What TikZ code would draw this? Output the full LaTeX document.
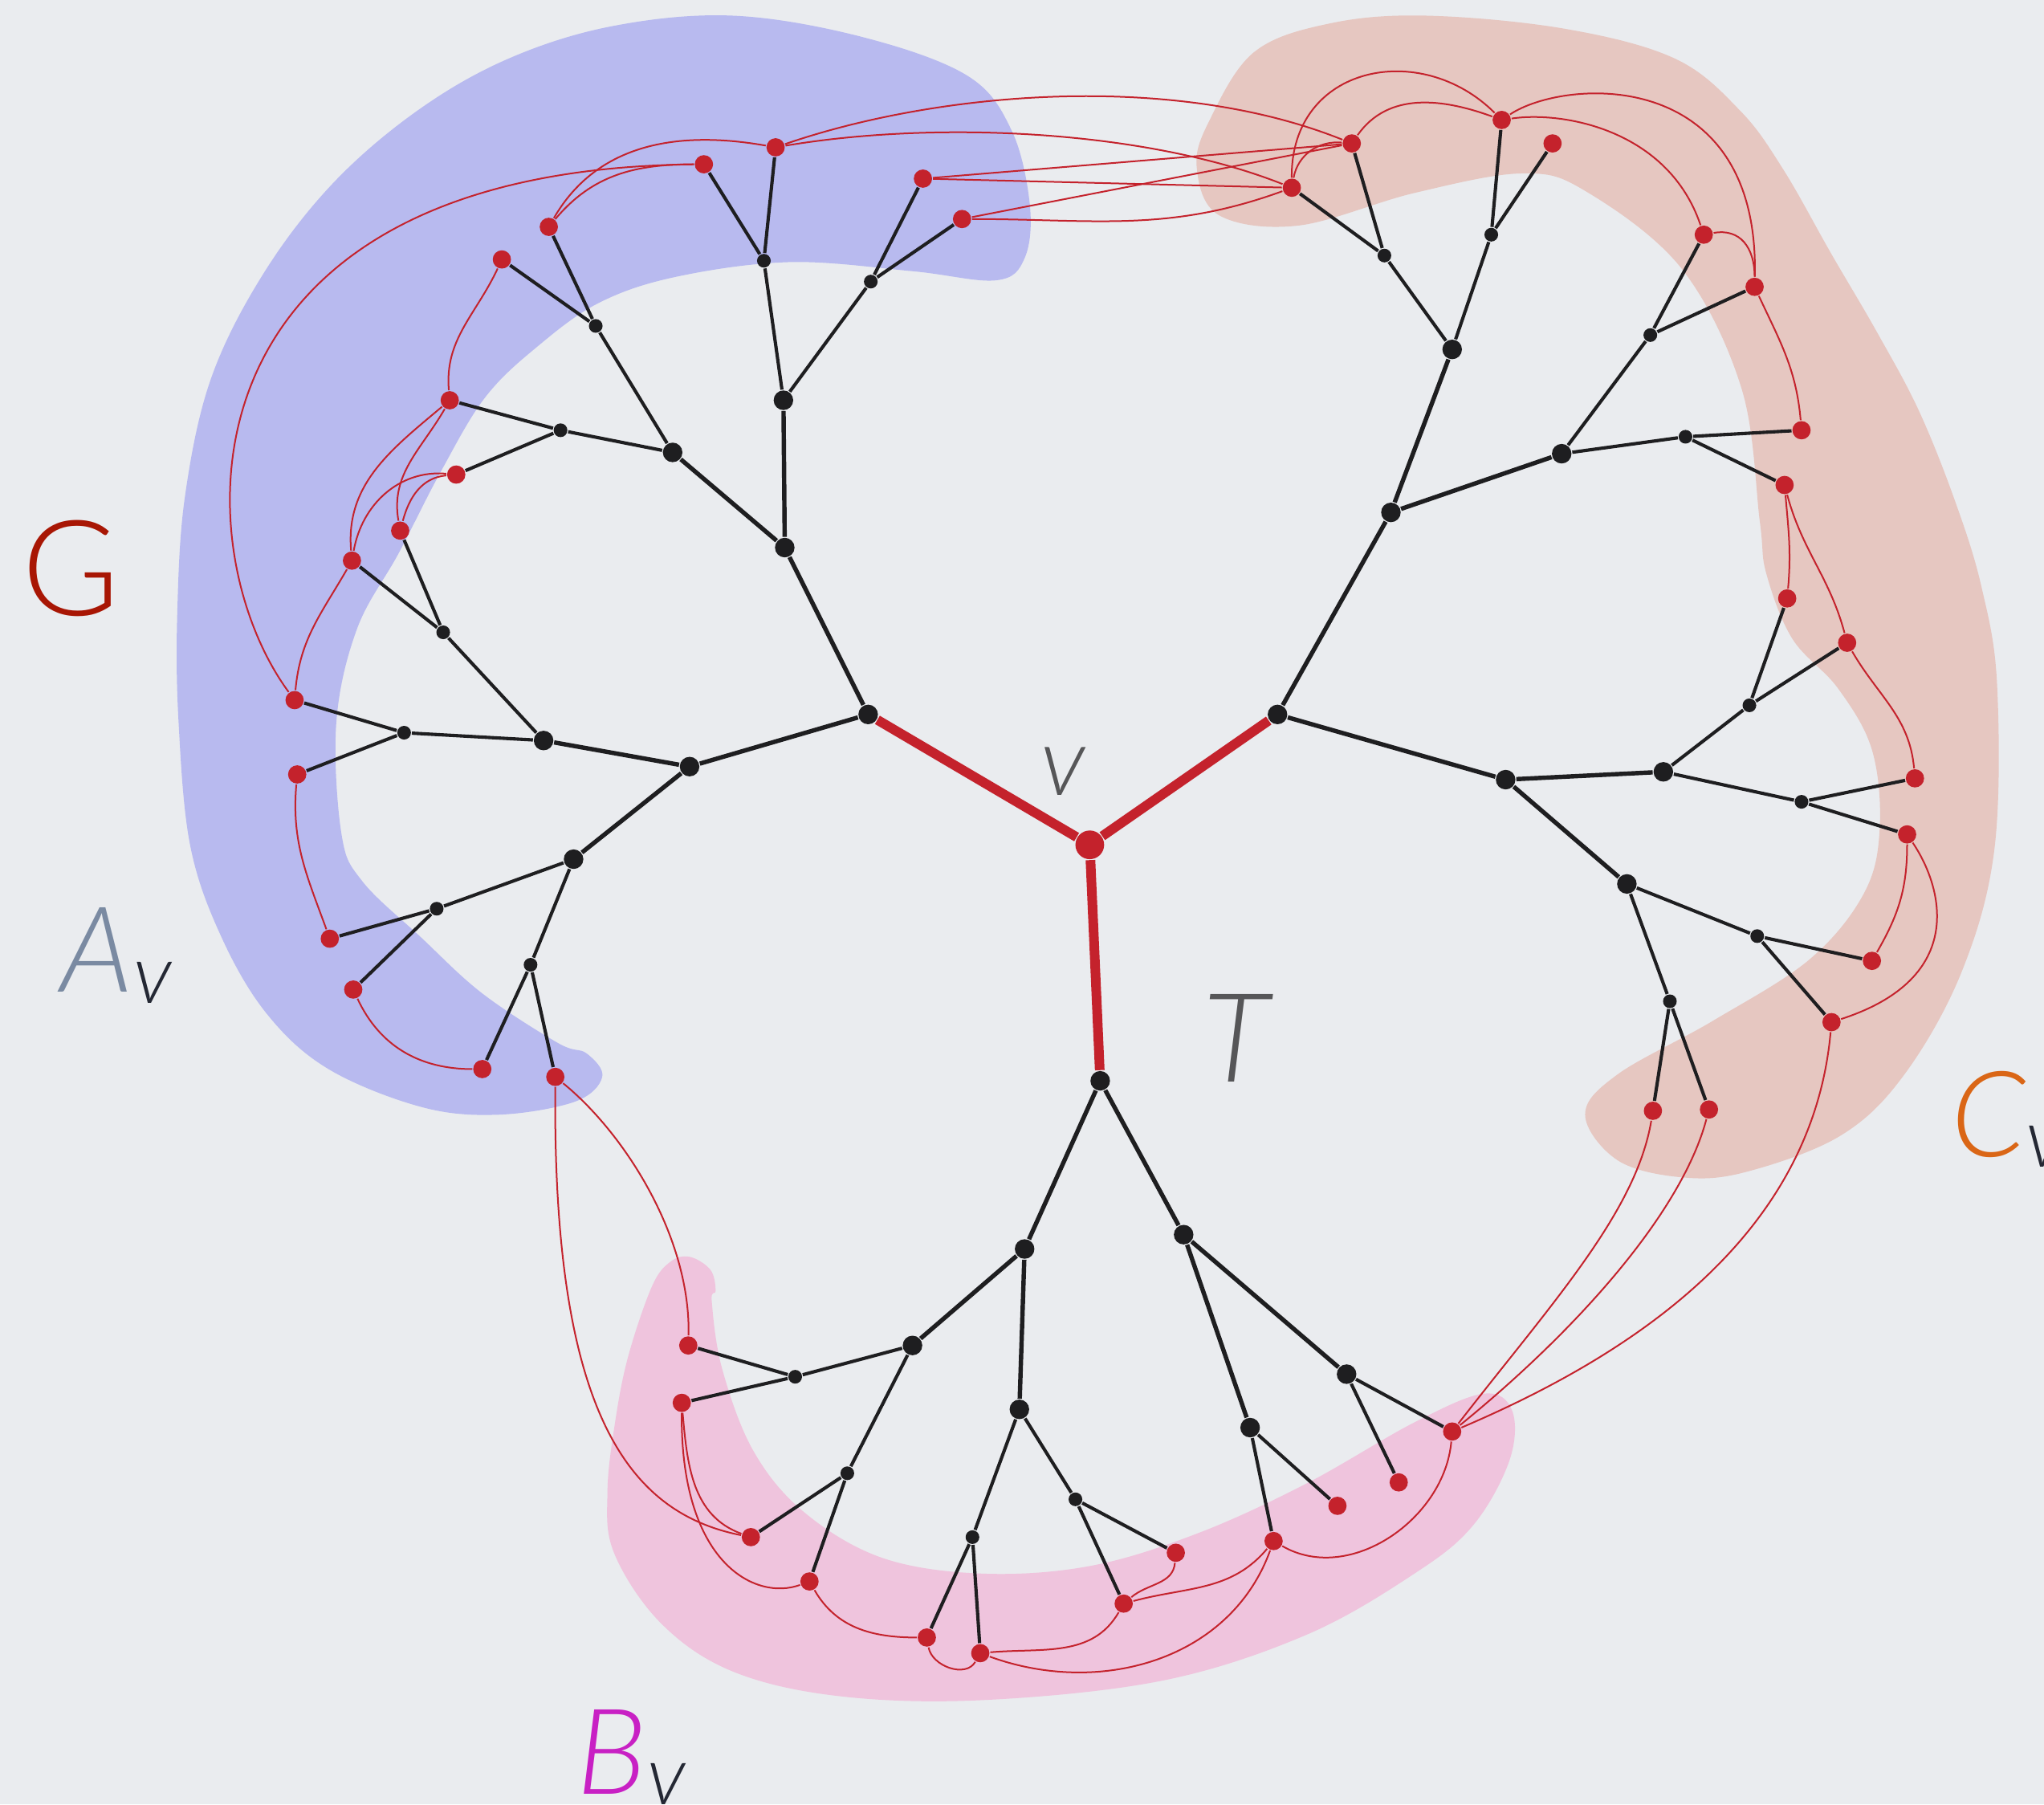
\documentclass[tikz,border=0pt]{standalone}
\usepackage{fontspec}
\IfFontExistsTF{Lato-Light.ttf}{%
  \IfFontExistsTF{Lato-LightItalic.ttf}%
    {\newfontfamily\lblfont[ItalicFont=Lato-LightItalic.ttf]{Lato-Light.ttf}}%
    {\newfontfamily\lblfont{Lato-Light.ttf}}}%
  {\IfFontExistsTF{Lato Light}{\newfontfamily\lblfont{Lato Light}}{\newfontfamily\lblfont{Lato}}}

\definecolor{paper}{RGB}{234,236,239}
\definecolor{ink}{RGB}{30,30,32}
\definecolor{gred}{RGB}{196,34,44}
\definecolor{blobA}{RGB}{184,186,239}
\definecolor{blobB}{RGB}{239,196,221}
\definecolor{blobC}{RGB}{230,199,193}
\definecolor{colG}{RGB}{168,22,4}
\definecolor{colA}{RGB}{122,138,162}
\definecolor{colB}{RGB}{200,32,196}
\definecolor{colC}{RGB}{218,102,22}
\definecolor{colT}{RGB}{86,86,88}
\definecolor{subv}{RGB}{36,40,52}

\newcommand{\subv}{\lower2.4pt\hbox{\color{subv}\fontsize{18}{18}\selectfont v}}

\begin{document}
\begin{tikzpicture}[
    x=0.01cm, y=-0.01cm,
    leaf/.style={circle, fill=gred, inner sep=0pt, minimum size=0.14cm},
    hub/.style={circle, fill=ink, inner sep=0pt, minimum size=0.15cm},
    twig/.style={circle, fill=ink, inner sep=0pt, minimum size=0.105cm},
    rootdot/.style={circle, fill=gred, inner sep=0pt, minimum size=0.22cm},
    trunk/.style={ink, line width=0.95pt},
    branch/.style={ink, line width=0.72pt},
    spine/.style={gred, line width=2.1pt},
    gedge/.style={gred, line width=0.35pt},
    bigletter/.style={inner sep=0pt, anchor=base west, font=\lblfont\fontsize{26}{26}\selectfont},
]

% fondo
\useasboundingbox (0,0) rectangle (1568,1384);
\fill[paper] (0,0) rectangle (1568,1384);

% insiemi A_v, B_v, C_v
\fill[blobA] plot[smooth cycle, tension=0.6] coordinates {
    (562,12) (660,28) (742,58) (776,100) (790,157) (786,198) (764,215)
    (700,208) (607,201) (520,212) (460,232) (412,266) (372,305) (338,362)
    (306,424) (274,482) (258,554) (262,640) (278,676) (323,719) (370,762)
    (428,800) (450,808) (462,826) (441,845) (382,855) (323,849) (252,820)
    (205,778) (170,719) (146,649) (137,554) (136,470) (142,380) (162,290)
    (202,210) (255,141) (320,85) (390,45) (470,20)};

\fill[blobC] plot[smooth cycle, tension=0.6] coordinates {
    (1094,12) (1200,22) (1285,45) (1335,85) (1368,130) (1405,195)
    (1440,255) (1472,315) (1500,385) (1520,450) (1532,525) (1530,651)
    (1505,745) (1461,824) (1412,871) (1339,899) (1290,903) (1241,890)
    (1216,855) (1241,824) (1314,783) (1388,736) (1430,685) (1442,635)
    (1436,575) (1410,528) (1375,490) (1355,440) (1350,400) (1336,298)
    (1290,206) (1217,147) (1168,133) (1085,148) (996,173) (935,165)
    (918,128) (928,92) (962,40) (1020,18)};

\fill[blobB] plot[smooth cycle, tension=0.6] coordinates {
    (529,964) (545,974) (549,990) (546,998) (554,1050) (578,1113)
    (617,1160) (677,1195) (754,1207) (837,1201) (919,1176) (1002,1138)
    (1085,1091) (1138,1069) (1160,1082) (1158,1120) (1130,1170)
    (1085,1207) (1002,1254) (892,1289) (754,1304) (644,1301) (562,1282)
    (507,1245) (471,1191) (466,1144) (472,1090) (482,1040) (500,987)
    (514,968)};

% radice
\node[rootdot] (v) at (836,648) {};

% sottoalbero sinistro
\node[hub] (a) at (666,548) {};
\node[hub] (a1) at (602,420) {};
\node[hub] (a2) at (529,588) {};
\node[hub] (a11) at (601,307) {};
\node[hub] (a12) at (516,347) {};
\node[hub] (a21) at (417,568) {};
\node[hub] (a22) at (440,659) {};
\node[twig] (a111) at (586,200) {};
\node[twig] (a112) at (668,216) {};
\node[twig] (a121) at (457,250) {};
\node[twig] (a122) at (430,330) {};
\node[twig] (a211) at (340,485) {};
\node[twig] (a212) at (310,562) {};
\node[twig] (a221) at (335,697) {};
\node[twig] (a222) at (407,740) {};
\node[leaf] (a1111) at (595,113) {};
\node[leaf] (a1112) at (540,126) {};
\node[leaf] (a1121) at (708,137) {};
\node[leaf] (a1122) at (738,168) {};
\node[leaf] (a1211) at (421,174) {};
\node[leaf] (a1212) at (385,199) {};
\node[leaf] (a1221) at (345,307) {};
\node[leaf] (a1222) at (350,364) {};
\node[leaf] (a2111) at (307,407) {};
\node[leaf] (a2112) at (270,430) {};
\node[leaf] (a2121) at (226,537) {};
\node[leaf] (a2122) at (228,594) {};
\node[leaf] (a2211) at (253,720) {};
\node[leaf] (a2212) at (271,759) {};
\node[leaf] (a2221) at (370,820) {};
\node[leaf] (a2222) at (426,826) {};

% sottoalbero destro
\node[hub] (c) at (980,548) {};
\node[hub] (c1) at (1067,393) {};
\node[hub] (c2) at (1155,598) {};
\node[hub] (c11) at (1114,268) {};
\node[hub] (c12) at (1198,348) {};
\node[hub] (c21) at (1276,592) {};
\node[hub] (c22) at (1248,678) {};
\node[twig] (c111) at (1062,196) {};
\node[twig] (c112) at (1144,180) {};
\node[twig] (c121) at (1266,257) {};
\node[twig] (c122) at (1293,335) {};
\node[twig] (c211) at (1342,541) {};
\node[twig] (c212) at (1382,615) {};
\node[twig] (c221) at (1348,718) {};
\node[twig] (c222) at (1281,768) {};
\node[leaf] (c1111) at (1037,110) {};
\node[leaf] (c1112) at (991,144) {};
\node[leaf] (c1121) at (1152,92) {};
\node[leaf] (c1122) at (1191,110) {};
\node[leaf] (c1211) at (1307,180) {};
\node[leaf] (c1212) at (1346,220) {};
\node[leaf] (c1221) at (1382,330) {};
\node[leaf] (c1222) at (1369,372) {};
\node[leaf] (c2111) at (1371,459) {};
\node[leaf] (c2112) at (1417,493) {};
\node[leaf] (c2121) at (1469,597) {};
\node[leaf] (c2122) at (1463,640) {};
\node[leaf] (c2211) at (1436,737) {};
\node[leaf] (c2212) at (1405,784) {};
\node[leaf] (c2221) at (1268,852) {};
\node[leaf] (c2222) at (1311,851) {};

% sottoalbero inferiore
\node[hub] (b) at (844,829) {};
\node[hub] (b1) at (786,958) {};
\node[hub] (b2) at (908,947) {};
\node[hub] (b11) at (700,1032) {};
\node[hub] (b12) at (782,1081) {};
\node[hub] (b21) at (959,1095) {};
\node[hub] (b22) at (1033,1054) {};
\node[twig] (b111) at (610,1056) {};
\node[twig] (b112) at (650,1130) {};
\node[twig] (b121) at (746,1179) {};
\node[twig] (b122) at (825,1150) {};
\node[leaf] (b1111) at (528,1032) {};
\node[leaf] (b1112) at (523,1076) {};
\node[leaf] (b1121) at (576,1179) {};
\node[leaf] (b1122) at (621,1213) {};
\node[leaf] (b1211) at (711,1256) {};
\node[leaf] (b1212) at (752,1268) {};
\node[leaf] (b1221) at (862,1230) {};
\node[leaf] (b1222) at (902,1191) {};
\node[leaf] (b211) at (977,1182) {};
\node[leaf] (b212) at (1026,1155) {};
\node[leaf] (b221) at (1073,1137) {};
\node[leaf] (b222) at (1114,1098) {};

% archi dell'albero T
\draw[spine] (v) -- (a) (v) -- (c) (v) -- (b);
\draw[trunk] (a) -- (a1) (a) -- (a2) (a1) -- (a11) (a1) -- (a12)
             (a2) -- (a21) (a2) -- (a22);
\draw[trunk] (c) -- (c1) (c) -- (c2) (c1) -- (c11) (c1) -- (c12)
             (c2) -- (c21) (c2) -- (c22);
\draw[trunk] (b) -- (b1) (b) -- (b2) (b1) -- (b11) (b1) -- (b12)
             (b2) -- (b21) (b2) -- (b22);
\draw[branch] (a11) -- (a111) (a11) -- (a112) (a12) -- (a121) (a12) -- (a122)
              (a21) -- (a211) (a21) -- (a212) (a22) -- (a221) (a22) -- (a222);
\draw[branch] (a111) -- (a1111) (a111) -- (a1112) (a112) -- (a1121) (a112) -- (a1122)
              (a121) -- (a1211) (a121) -- (a1212) (a122) -- (a1221) (a122) -- (a1222)
              (a211) -- (a2111) (a211) -- (a2112) (a212) -- (a2121) (a212) -- (a2122)
              (a221) -- (a2211) (a221) -- (a2212) (a222) -- (a2221) (a222) -- (a2222);
\draw[branch] (c11) -- (c111) (c11) -- (c112) (c12) -- (c121) (c12) -- (c122)
              (c21) -- (c211) (c21) -- (c212) (c22) -- (c221) (c22) -- (c222);
\draw[branch] (c111) -- (c1111) (c111) -- (c1112) (c112) -- (c1121) (c112) -- (c1122)
              (c121) -- (c1211) (c121) -- (c1212) (c122) -- (c1221) (c122) -- (c1222)
              (c211) -- (c2111) (c211) -- (c2112) (c212) -- (c2121) (c212) -- (c2122)
              (c221) -- (c2211) (c221) -- (c2212) (c222) -- (c2221) (c222) -- (c2222);
\draw[branch] (b11) -- (b111) (b11) -- (b112) (b12) -- (b121) (b12) -- (b122)
              (b21) -- (b211) (b21) -- (b212) (b22) -- (b221) (b22) -- (b222);
\draw[branch] (b111) -- (b1111) (b111) -- (b1112) (b112) -- (b1121) (b112) -- (b1122)
              (b121) -- (b1211) (b121) -- (b1212) (b122) -- (b1221) (b122) -- (b1222);

% archi di G (lato sinistro)
\draw[gedge] (a1111) to[out=170,in=60] (a1211);
\draw[gedge] (a1112) to[out=180,in=50] (a1211);
\draw[gedge] (a1112) .. controls (130,130) and (140,420) .. (a2121);
\draw[gedge] (a1221) to[out=95,in=-115] (a1212);
\draw[gedge] (a1221) to[out=-140,in=95] (a2112);
\draw[gedge] (a1221) to[out=-120,in=100] (a2111);
\draw[gedge] (a1222) to[out=175,in=80] (a2112);
\draw[gedge] (a1222) to[out=185,in=75] (a2111);
\draw[gedge] (a2112) to[out=-120,in=85] (a2121);
\draw[gedge] (a2122) to[out=-95,in=110] (a2211);
\draw[gedge] (a2212) to[out=-65,in=180] (a2221);

% archi di G tra A_v e C_v
\draw[gedge] (a1111) .. controls (720,70) and (900,55) .. (c1111);
\draw[gedge] (a1111) .. controls (720,92) and (880,100) .. (c1112);
\draw[gedge] (a1121) -- (c1111);
\draw[gedge] (a1121) -- (c1112);
\draw[gedge] (a1122) -- (c1111);
\draw[gedge] (a1122) to[out=0,in=200] (c1112);

% archi di G (lato destro)
\draw[gedge] (c1112) .. controls (990,50) and (1090,30) .. (c1121);
\draw[gedge] (c1111) to[out=55,in=160] (c1121);
\draw[gedge] (c1112) to[out=80,in=175] (c1111);
\draw[gedge] (c1121) .. controls (1200,60) and (1350,50) .. (c1212);
\draw[gedge] (c1121) .. controls (1200,85) and (1280,100) .. (c1211);
\draw[gedge] (c1211) .. controls (1335,175) and (1346,190) .. (c1212);
\draw[gedge] (c1212) to[out=-65,in=95] (c1221);
\draw[gedge] (c1222) to[out=-85,in=85] (c2111);
\draw[gedge] (c1222) to[out=-75,in=105] (c2112);
\draw[gedge] (c2112) to[out=-60,in=95] (c2121);
\draw[gedge] (c2122) to[out=-90,in=60] (c2211);
\draw[gedge] (c2122) .. controls (1490,680) and (1510,750) .. (c2212);

% archi di G tra C_v e B_v
\draw[gedge] (b222) .. controls (1250,1040) and (1390,950) .. (c2212);
\draw[gedge] (b222) .. controls (1190,1000) and (1255,930) .. (c2221);
\draw[gedge] (b222) .. controls (1210,1020) and (1290,930) .. (c2222);

% archi di G tra A_v e B_v
\draw[gedge] (a2222) .. controls (424,1080) and (480,1160) .. (b1121);
\draw[gedge] (a2222) .. controls (480,870) and (530,950) .. (b1111);

% archi di G (lato inferiore)
\draw[gedge] (b1121) to[out=160,in=-85] (b1112);
\draw[gedge] (b1122) .. controls (580,1228) and (522,1200) .. (b1112);
\draw[gedge] (b1122) to[out=-60,in=180] (b1211);
\draw[gedge] (b1211) to[out=-80,in=-120] (b1212);
\draw[gedge] (b1212) to[out=5,in=-120] (b1221);
\draw[gedge] (b1222) to[out=-95,in=40] (b1221);
\draw[gedge] (b211) to[out=-130,in=15] (b1221);
\draw[gedge] (b211) to[out=-110,in=-20] (b1212);
\draw[gedge] (b222) to[out=-95,in=-30] (b211);

% etichette
\node[bigletter, text=colG, font=\lblfont\fontsize{29}{29}\selectfont] (lblG) at (16,472) {G};
\node[bigletter, text=colA, font=\lblfont\itshape\fontsize{26}{26}\selectfont] (lblA) at (46,761) {A\subv};
\node[bigletter, text=colB, font=\lblfont\itshape\fontsize{26}{26}\selectfont] (lblB) at (442,1376) {B\subv};
\node[bigletter, text=colC, font=\lblfont\itshape\fontsize{26}{26}\selectfont] (lblC) at (1496,887) {C\subv};
\node[bigletter, text=colT, font=\lblfont\itshape\fontsize{27}{27}\selectfont] (lblT) at (922,830) {T};
\node[bigletter, text=colT, font=\lblfont\itshape\fontsize{21}{21}\selectfont] (lblv) at (798,610) {v};

\end{tikzpicture}
\end{document}
